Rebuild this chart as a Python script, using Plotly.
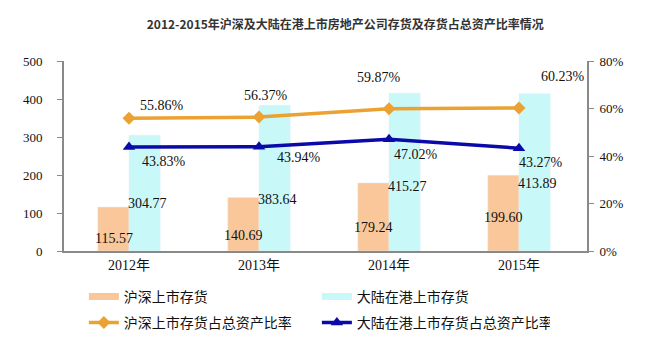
import plotly.graph_objects as go

years = ["2012年", "2013年", "2014年", "2015年"]
hs_inventory = [115.57, 140.69, 179.24, 199.60]
hk_inventory = [304.77, 383.64, 415.27, 413.89]
hs_ratio = [55.86, 56.37, 59.87, 60.23]
hk_ratio = [43.83, 43.94, 47.02, 43.27]

title = "2012-2015年沪深及大陆在港上市房地产公司存货及存货占总资产比率情况"
names = ["沪深上市存货", "大陆在港上市存货", "沪深上市存货占总资产比率", "大陆在港上市存货占总资产比率"]

ORANGE_BAR = "#F9C79A"
CYAN_BAR = "#C9F8F8"
ORANGE_LINE = "#EBA232"
BLUE_LINE = "#0A0AAA"
AXIS = "#898989"
SERIF = "Liberation Serif, Noto Sans CJK SC"
CJK = "Noto Sans CJK SC, Noto Sans"

fig = go.Figure()
fig.add_trace(go.Bar(x=years, y=hs_inventory, name=names[0], marker_color=ORANGE_BAR,
                     offsetgroup="a", yaxis="y", showlegend=False))
fig.add_trace(go.Bar(x=years, y=hk_inventory, name=names[1], marker_color=CYAN_BAR,
                     offsetgroup="b", yaxis="y", showlegend=False))
fig.add_trace(go.Scatter(x=years, y=hs_ratio, name=names[2], mode="lines+markers",
                         line=dict(color=ORANGE_LINE, width=3.5),
                         marker=dict(symbol="diamond", size=10, color=ORANGE_LINE),
                         yaxis="y2", legend="legend2"))
fig.add_trace(go.Scatter(x=years, y=hk_ratio, name=names[3], mode="lines+markers",
                         line=dict(color=BLUE_LINE, width=3.5),
                         marker=dict(symbol="triangle-up", size=11, color=BLUE_LINE),
                         yaxis="y2", legend="legend2"))
# legend keys for the bar series (wide flat swatches as in the reference)
fig.add_trace(go.Scatter(x=[None], y=[None], name=names[0], mode="lines",
                         line=dict(color=ORANGE_BAR, width=7), legend="legend"))
fig.add_trace(go.Scatter(x=[None], y=[None], name=names[1], mode="lines",
                         line=dict(color=CYAN_BAR, width=7), legend="legend"))

# label offsets (pixels)
hs_off = [(33, -13), (7, -22), (-10, -31), (44, -31)]
hk_off = [(35, 15), (40, 11), (27, 15), (22, 14)]
hs_bar_lift = [13, 16, 24, 34]
hk_bar_shift = [4, -2, -4, -8]
bar_w = 15.5

ann = []
lab_font = dict(family=SERIF, size=14, color="#111")
for i, y in enumerate(years):
    ann.append(dict(x=y, y=0, xref="x", yref="y", text=f"{hs_inventory[i]:.2f}",
                    showarrow=False, xshift=-bar_w, yshift=hs_bar_lift[i], font=lab_font))
    ann.append(dict(x=y, y=hs_inventory[i], xref="x", yref="y", text=f"{hk_inventory[i]:.2f}",
                    showarrow=False, xshift=bar_w + 3, yshift=hk_bar_shift[i], font=lab_font))
    ann.append(dict(x=y, y=hs_ratio[i], xref="x", yref="y2", text=f"{hs_ratio[i]:.2f}%",
                    showarrow=False, xshift=hs_off[i][0], yshift=-hs_off[i][1], font=lab_font))
    ann.append(dict(x=y, y=hk_ratio[i], xref="x", yref="y2", text=f"{hk_ratio[i]:.2f}%",
                    showarrow=False, xshift=hk_off[i][0], yshift=-hk_off[i][1], font=lab_font))

legend_common = dict(orientation="h", xanchor="left", yanchor="middle",
                     entrywidth=188, entrywidthmode="pixels", traceorder="normal",
                     font=dict(family=CJK, size=14, color="#111"),
                     bgcolor="rgba(0,0,0,0)")

fig.update_layout(
    width=668, height=355,
    margin=dict(l=56, r=89, t=53, b=112, autoexpand=False),
    paper_bgcolor="white", plot_bgcolor="white",
    title=dict(text=title, x=0.505, xanchor="center", y=0.952, yanchor="middle",
               font=dict(family=CJK, size=12, color="#333", weight="bold")),
    barmode="group", bargap=0.52, bargroupgap=0,
    xaxis=dict(showline=True, linecolor=AXIS, linewidth=2, ticks="",
               tickfont=dict(family=SERIF, size=14, color="#111"), fixedrange=True),
    yaxis=dict(range=[0, 500], dtick=100, showline=True, linecolor=AXIS, linewidth=2,
               ticks="outside", ticklen=5, tickcolor=AXIS, showgrid=False, zeroline=False,
               ticklabelstandoff=12,
               tickfont=dict(family=SERIF, size=13, color="#111")),
    yaxis2=dict(range=[0, 80], dtick=20, ticksuffix="%", overlaying="y", side="right",
                showline=True, linecolor=AXIS, linewidth=2, ticks="outside", ticklen=5,
                tickcolor=AXIS, showgrid=False, zeroline=False, ticklabelstandoff=3,
                tickfont=dict(family=SERIF, size=13, color="#111")),
    legend=dict(x=0.038, y=-0.242, **legend_common),
    legend2=dict(x=0.038, y=-0.379, **legend_common),
    annotations=ann,
    showlegend=True,
)

fig.write_html("out.html")
